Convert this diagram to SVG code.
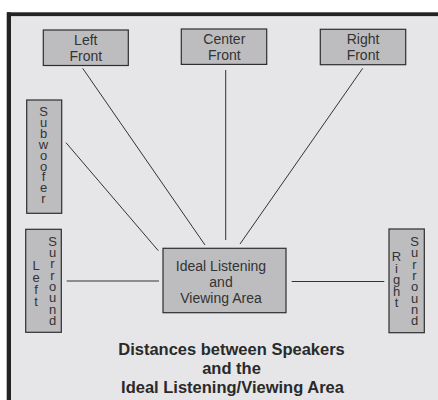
<svg xmlns="http://www.w3.org/2000/svg" width="438" height="400" viewBox="0 0 438 400">
<style>
.box{fill:#bdbdbf;stroke:#2e2e2e;stroke-width:1.2}
.t{font-family:"Liberation Sans",Arial,sans-serif;font-size:14px;fill:#333;text-anchor:middle}
.v{font-family:"Liberation Sans",Arial,sans-serif;font-size:13px;fill:#333;text-anchor:middle}
.title{font-family:"Liberation Sans",Arial,sans-serif;font-size:16.5px;font-weight:bold;fill:#2a2a2a;text-anchor:middle}
.c{stroke:#333;stroke-width:1;fill:none}
</style>
<rect x="0" y="0" width="438" height="400" fill="#ffffff"/>
<rect x="11" y="16" width="427" height="384" fill="#e6e6e8"/>
<rect x="7" y="12.3" width="431" height="3.8" fill="#232323"/>
<rect x="6.7" y="12.3" width="4.3" height="387.7" fill="#232323"/>
<g id="connectors">
<line class="c" x1="82.7" y1="68.3" x2="205" y2="245"/>
<line class="c" x1="225.7" y1="70" x2="225.7" y2="240"/>
<line class="c" x1="362.7" y1="68.3" x2="240" y2="244"/>
<line class="c" x1="66" y1="142.7" x2="158.3" y2="250.7"/>
<line class="c" x1="66.7" y1="281" x2="159" y2="281"/>
<line class="c" x1="291.7" y1="281.5" x2="384.3" y2="281.5"/>
</g>
<g id="left-front">
<rect class="box" x="43.3" y="30" width="85" height="35.5"/>
<text class="t" x="85.8" y="45">Left</text>
<text class="t" x="85.8" y="60.5">Front</text>
</g>
<g id="center-front">
<rect class="box" x="181.3" y="29" width="85.4" height="35.4"/>
<text class="t" x="224.3" y="44">Center</text>
<text class="t" x="224.3" y="59.6">Front</text>
</g>
<g id="right-front">
<rect class="box" x="320.3" y="29.3" width="85.4" height="35.4"/>
<text class="t" x="363" y="44.3">Right</text>
<text class="t" x="363" y="59.9">Front</text>
</g>
<g id="subwoofer">
<rect class="box" x="26.7" y="100" width="35" height="113.3"/>
<text class="v"><tspan x="43.5" y="116">S</tspan><tspan x="43.5" y="126.9">u</tspan><tspan x="43.5" y="137.8">b</tspan><tspan x="43.5" y="148.7">w</tspan><tspan x="43.5" y="159.6">o</tspan><tspan x="43.5" y="170.5">o</tspan><tspan x="43.5" y="181.4">f</tspan><tspan x="43.5" y="192.3">e</tspan><tspan x="43.5" y="203.2">r</tspan></text>
</g>
<g id="left-surround">
<rect class="box" x="25.7" y="229.3" width="35.6" height="103"/>
<text class="v"><tspan x="52.5" y="245.7">S</tspan><tspan x="52.5" y="257">u</tspan><tspan x="52.5" y="268.3">r</tspan><tspan x="52.5" y="279.6">r</tspan><tspan x="52.5" y="290.9">o</tspan><tspan x="52.5" y="302.2">u</tspan><tspan x="52.5" y="313.5">n</tspan><tspan x="52.5" y="324.8">d</tspan></text>
<text class="v"><tspan x="36" y="270">L</tspan><tspan x="36" y="281.9">e</tspan><tspan x="36" y="293.8">f</tspan><tspan x="36" y="305.7">t</tspan></text>
</g>
<g id="right-surround">
<rect class="box" x="389" y="229" width="35.3" height="103.7"/>
<text class="v"><tspan x="414.5" y="246">S</tspan><tspan x="414.5" y="257.3">u</tspan><tspan x="414.5" y="268.6">r</tspan><tspan x="414.5" y="279.9">r</tspan><tspan x="414.5" y="291.2">o</tspan><tspan x="414.5" y="302.5">u</tspan><tspan x="414.5" y="313.8">n</tspan><tspan x="414.5" y="325.1">d</tspan></text>
<text class="v"><tspan x="396.5" y="261">R</tspan><tspan x="396.5" y="272.5">i</tspan><tspan x="396.5" y="284">g</tspan><tspan x="396.5" y="295.5">h</tspan><tspan x="396.5" y="307">t</tspan></text>
</g>
<g id="ideal-area">
<rect class="box" x="163" y="248.3" width="123" height="64.4"/>
<text class="t" x="221" y="271">Ideal Listening</text>
<text class="t" x="221" y="287">and</text>
<text class="t" x="221" y="303">Viewing Area</text>
</g>
<g id="caption">
<text class="title" x="231.5" y="355">Distances between Speakers</text>
<text class="title" x="231.5" y="373.5">and the</text>
<text class="title" x="232.5" y="392.8">Ideal Listening/Viewing Area</text>
</g>
</svg>
